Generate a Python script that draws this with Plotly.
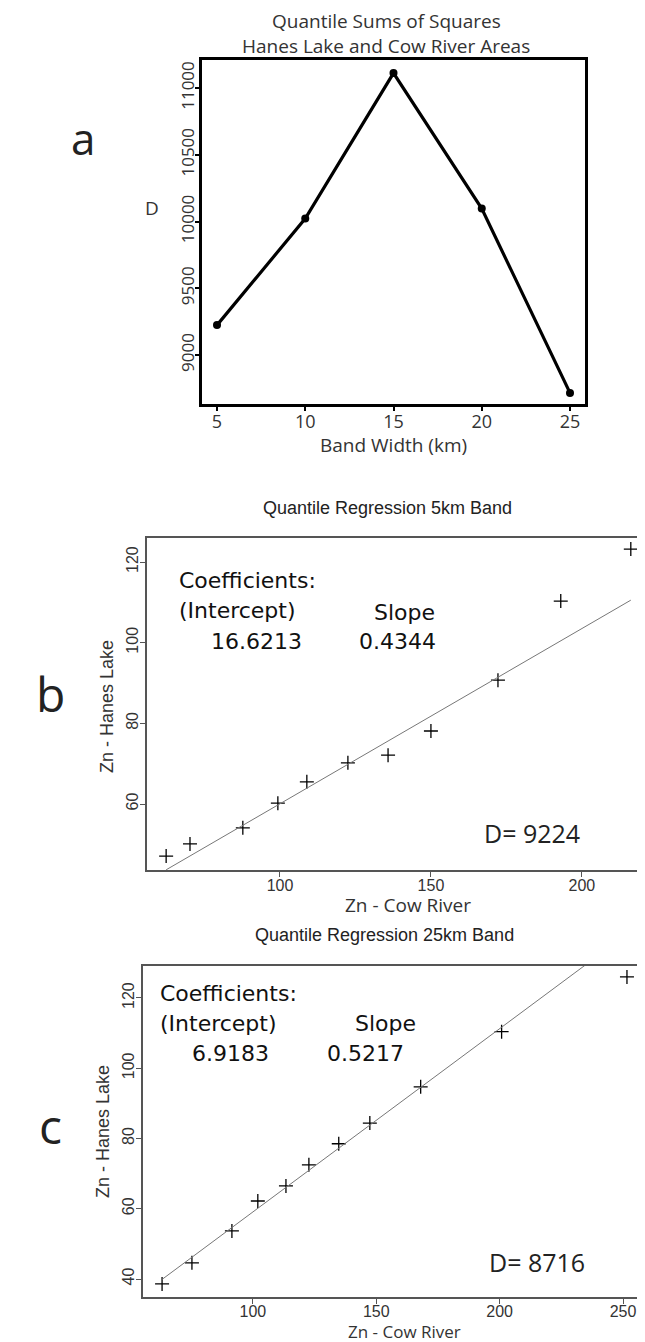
import plotly.graph_objects as go

# ---------------- data ----------------
band_width = [5, 10, 15, 20, 25]
d_values = [9224, 10022, 11112, 10097, 8716]

cow_5km = [62.3, 70.2, 87.7, 99.3, 108.9, 122.5, 135.8, 150.0, 172.2, 193.0, 216.2]
hanes_5km = [47.1, 50.1, 54.1, 60.2, 65.5, 70.2, 72.1, 78.1, 90.7, 110.3, 123.2]
intercept_5km = 16.6213
slope_5km = 0.4344
d_5km = 9224

cow_25km = [63.2, 75.3, 91.5, 102.0, 113.4, 122.7, 134.8, 147.4, 168.0, 200.8, 251.6]
hanes_25km = [38.6, 44.6, 53.7, 62.2, 66.5, 72.5, 78.5, 84.4, 94.7, 110.4, 126.0]
intercept_25km = 6.9183
slope_25km = 0.5217
d_25km = 8716

a_xticks = [5, 10, 15, 20, 25]
a_yticks = [9000, 9500, 10000, 10500, 11000]
b_xticks = [100, 150, 200]
b_yticks = [60, 80, 100, 120]
c_xticks = [100, 150, 200, 250]
c_yticks = [40, 60, 80, 100, 120]

# ---------------- layout helpers ----------------
# the page body has an 8px margin, so the figure is shifted by 8px
OFF = 8
WIN_W, WIN_H = 645, 1342
FW, FH = WIN_W - OFF, WIN_H - OFF


def PX(x):
    return (x - OFF) / FW


def PY(y):
    return 1 - (y - OFF) / FH


GOTHIC = "Open Sans"
ARIAL = "Liberation Sans"
VERD = "DejaVu Sans"

fig = go.Figure()

# panel a
fig.add_trace(go.Scatter(x=band_width, y=d_values, mode="lines+markers",
                         line=dict(color="black", width=3.2),
                         marker=dict(color="black", size=8),
                         xaxis="x", yaxis="y", showlegend=False))

# panel b
fig.add_trace(go.Scatter(x=cow_5km, y=hanes_5km, mode="markers",
                         marker=dict(symbol="cross-thin", size=10,
                                     line=dict(color="black", width=1.3)),
                         xaxis="x2", yaxis="y2", showlegend=False))
xl5 = [min(cow_5km), max(cow_5km)]
fig.add_trace(go.Scatter(x=xl5, y=[intercept_5km + slope_5km * v for v in xl5],
                         mode="lines", line=dict(color="#777", width=1),
                         xaxis="x2", yaxis="y2", showlegend=False))

# panel c
fig.add_trace(go.Scatter(x=cow_25km, y=hanes_25km, mode="markers",
                         marker=dict(symbol="cross-thin", size=10,
                                     line=dict(color="black", width=1.3)),
                         xaxis="x3", yaxis="y3", showlegend=False))
xl25 = [min(cow_25km), max(cow_25km)]
fig.add_trace(go.Scatter(x=xl25, y=[intercept_25km + slope_25km * v for v in xl25],
                         mode="lines", line=dict(color="#777", width=1),
                         xaxis="x3", yaxis="y3", showlegend=False))

common = dict(showgrid=False, zeroline=False, ticks="outside", showline=True,
              tickformat="d")

fig.update_layout(
    width=FW, height=FH,
    margin=dict(l=0, r=0, t=0, b=0),
    paper_bgcolor="white", plot_bgcolor="white",
    xaxis=dict(domain=[PX(202), PX(585)], range=[4.15, 25.85], tickvals=a_xticks,
               linecolor="black", linewidth=3, mirror=True, ticklen=4, tickwidth=2,
               tickcolor="black", tickfont=dict(family=GOTHIC, size=18, color="#333"),
               ticklabelstandoff=-5, anchor="y", **common),
    yaxis=dict(domain=[PY(404), PY(60)], range=[8633, 11210], tickvals=a_yticks,
               linecolor="black", linewidth=3, mirror=True, ticklen=4, tickwidth=2,
               tickcolor="black", tickangle=-90, ticklabelstandoff=-6,
               tickfont=dict(family=GOTHIC, size=17, color="#333"),
               anchor="x", **common),
    xaxis2=dict(domain=[PX(147), 1], range=[55.96, 220.9], tickvals=b_xticks,
                linecolor="#555", linewidth=1.5, mirror=True, ticklen=5, tickwidth=1,
                tickcolor="#555", tickfont=dict(family=ARIAL, size=16, color="#333"),
                ticklabelstandoff=-5, anchor="y2", **common),
    yaxis2=dict(domain=[PY(870), PY(538)], range=[43.64, 125.95], tickvals=b_yticks,
                linecolor="#555", linewidth=1.5, mirror=False, ticklen=5, tickwidth=1,
                tickcolor="#555", tickangle=-90, ticklabelstandoff=-4,
                tickfont=dict(family=ARIAL, size=16, color="#333"),
                anchor="x2", **common),
    xaxis3=dict(domain=[PX(143), PX(643)], range=[55.47, 258.1], tickvals=c_xticks,
                linecolor="#555", linewidth=1.5, mirror=True, ticklen=5, tickwidth=1,
                tickcolor="#555", tickfont=dict(family=ARIAL, size=16, color="#333"),
                ticklabelstandoff=-6, anchor="y3", **common),
    yaxis3=dict(domain=[PY(1297), PY(966)], range=[34.88, 129.1], tickvals=c_yticks,
                linecolor="#555", linewidth=1.5, mirror=True, ticklen=5, tickwidth=1,
                tickcolor="#555", tickangle=-90, ticklabelstandoff=-4,
                tickfont=dict(family=ARIAL, size=16, color="#333"),
                anchor="x3", **common),
)


def note(text, x, y, size, family, color="#222", xanchor="center", angle=0,
         yanchor="middle", pad=1):
    fig.add_annotation(text=text, x=PX(x), y=PY(y), xref="paper", yref="paper",
                       showarrow=False, xanchor=xanchor, yanchor=yanchor,
                       borderpad=pad, textangle=angle,
                       font=dict(family=family, size=size, color=color))


# panel a texts
note("Quantile Sums of Squares", 386, 35, 19, GOTHIC, "#333", yanchor="bottom", pad=0)
note("Hanes Lake and Cow River Areas", 386, 60, 19, GOTHIC, "#333", yanchor="bottom", pad=0)
note("Band Width (km)", 393, 445, 19, GOTHIC, "#333")
note("D", 152, 208, 19, GOTHIC, "#333")
note("a", 83, 138, 44, GOTHIC, "#222")

# panel b texts
note("Quantile Regression 5km Band", 387, 508, 18, ARIAL, "#222")
note("Zn - Hanes Lake", 107, 707, 18, ARIAL, "#333", angle=-90)
note("Zn - Cow River", 408, 905, 19, GOTHIC, "#333")
note("Coefficients:", 177, 580, 22, VERD, "#111", xanchor="left")
note("(Intercept)", 177, 610, 22, VERD, "#111", xanchor="left")
note(f"{intercept_5km:.4f}", 209, 642, 22, VERD, "#111", xanchor="left")
note("Slope", 372, 612, 22, VERD, "#111", xanchor="left")
note(f"{slope_5km:.4f}", 357, 642, 22, VERD, "#111", xanchor="left")
note(f"D= {d_5km}", 482, 833, 25, GOTHIC, "#222", xanchor="left")
note("b", 50, 693, 48, GOTHIC, "#222")

# panel c texts
note("Quantile Regression 25km Band", 384, 935, 18, ARIAL, "#222")
note("Zn - Hanes Lake", 103, 1132, 18, ARIAL, "#333", angle=-90)
note("Zn - Cow River", 404, 1331, 17, GOTHIC, "#333")
note("Coefficients:", 158, 993, 22, VERD, "#111", xanchor="left")
note("(Intercept)", 158, 1023, 22, VERD, "#111", xanchor="left")
note(f"{intercept_25km:.4f}", 190, 1053, 22, VERD, "#111", xanchor="left")
note("Slope", 353, 1023, 22, VERD, "#111", xanchor="left")
note(f"{slope_25km:.4f}", 325, 1053, 22, VERD, "#111", xanchor="left")
note(f"D= {d_25km}", 487, 1262, 25, GOTHIC, "#222", xanchor="left")
note("c", 50, 1125, 48, GOTHIC, "#222")

fig.write_html("out.html")
